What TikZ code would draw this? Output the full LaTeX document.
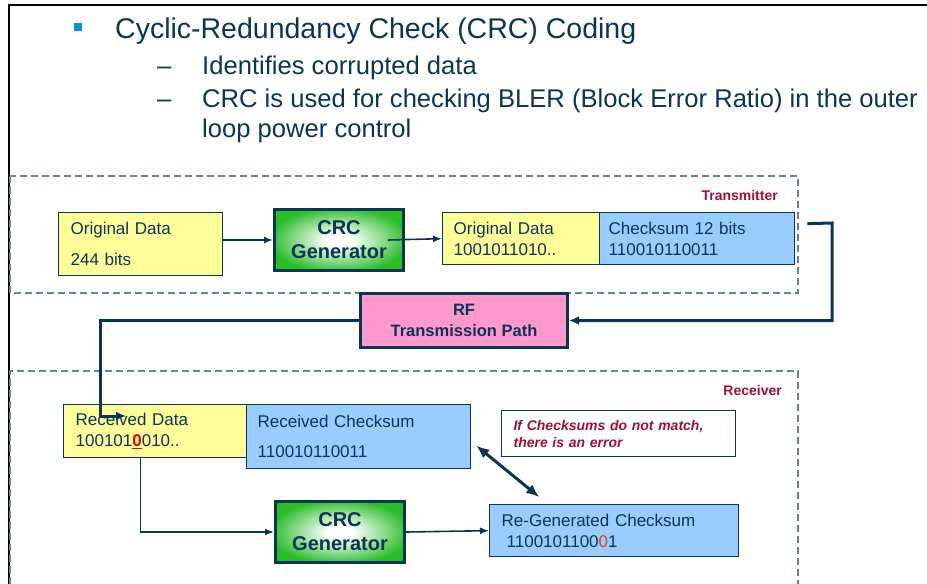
\documentclass[tikz,border=0pt]{standalone}
\usepackage{fontspec}
\setmainfont{Liberation Sans}
\usetikzlibrary{arrows.meta}

\definecolor{navy}{RGB}{12,52,86}
\definecolor{labelred}{RGB}{160,16,56}
\definecolor{datayellow}{RGB}{255,255,153}
\definecolor{sumblue}{RGB}{153,204,255}
\definecolor{rfpink}{RGB}{255,153,204}
\definecolor{crcgreen}{RGB}{40,190,40}
\definecolor{crcdark}{RGB}{30,160,30}
\definecolor{zonegray}{RGB}{100,130,155}
\definecolor{bulletblue}{RGB}{0,150,214}
\definecolor{bitred}{RGB}{230,0,0}
\definecolor{bitorange}{RGB}{230,60,20}

\pgfdeclareradialshading{crcglow}{\pgfpoint{0bp}{0bp}}{color(0bp)=(white); color(5bp)=(white); color(27bp)=(crcgreen); color(44bp)=(crcgreen); color(50bp)=(crcdark)}

\newcommand\crctitlefont{\fontsize{28.5pt}{33pt}\selectfont}
\newcommand\crcitemfont{\fontsize{25.6pt}{30pt}\selectfont}
\newcommand\crcboxfont{\fontsize{17pt}{21pt}\selectfont}
\newcommand\crcgenfont{\fontsize{20pt}{24pt}\selectfont\bfseries}
\newcommand\crcrffont{\fontsize{16.5pt}{21pt}\selectfont\bfseries}
\newcommand\crclabelfont{\fontsize{14pt}{16pt}\selectfont\bfseries}
\newcommand\crcnotefont{\fontsize{14pt}{17pt}\selectfont\bfseries\itshape}

\tikzset{
  databox/.style={draw=navy, line width=1.3pt, anchor=north west, inner xsep=#1, inner ysep=0pt, align=left, text=navy, font=\crcboxfont},
  genbox/.style={draw=navy, line width=3pt, anchor=north west, shading=crcglow, align=center, text=navy, font=\crcgenfont, inner sep=0pt},
  rfbox/.style={draw=navy, line width=3pt, anchor=north west, fill=rfpink, align=center, text=navy, font=\crcrffont, inner sep=0pt},
  notebox/.style={draw=navy, line width=1.2pt, anchor=north west, fill=white, inner xsep=12pt, inner ysep=0pt, align=left, text=labelred, font=\crcnotefont},
  zone/.style={draw=zonegray, line width=1.2pt, dash pattern=on 7pt off 4pt},
  link/.style={draw=navy, line width=1.6pt, -{Latex[length=9pt,width=7pt]}},
  bigflow/.style={draw=navy, line width=3pt, -{Latex[length=10pt,width=9pt]}},
  itemtext/.style={anchor=base west, text=navy, font=\crcitemfont, inner sep=0pt}
}

\begin{document}
\begin{tikzpicture}[x=1pt, y=-1pt]
\useasboundingbox (0,0) rectangle (927,584);

% frame
\draw[line width=2.2pt, black] (9,584) -- (9,5) -- (927,5);

% bullet text
\node[fill=bulletblue, minimum size=8pt, inner sep=0pt] (bullet) at (78,27) {};
\node[anchor=base west, text=navy, font=\crctitlefont, inner sep=0pt] (title) at (115,38) {Cyclic-Redundancy Check (CRC) Coding};
\node[itemtext] (dash1) at (157,74) {--};
\node[itemtext] (item1) at (202,74) {Identifies corrupted data};
\node[itemtext] (dash2) at (157,107) {--};
\node[itemtext] (item2) at (202,107) {CRC is used for checking BLER (Block Error Ratio) in the outer};
\node[itemtext] (item3) at (202,137) {loop power control};

% transmitter zone
\draw[zone] (10,176) rectangle (798,293);
\node[anchor=east, text=labelred, font=\crclabelfont, inner sep=0pt] (txlabel) at (778,195) {Transmitter};

\node[databox=12pt, fill=datayellow, minimum width=164pt, minimum height=63pt, text width=140pt] (orig) at (58,212) {Original Data\\[10pt]244 bits};
\node[genbox, minimum width=129pt, minimum height=61pt] (gen1) at (273,208) {CRC\\Generator};
\node[databox=11pt, fill=datayellow, minimum width=157pt, minimum height=52pt, text width=135pt] (data2) at (442,212) {Original Data\\1001011010..};
\node[databox=9pt, fill=sumblue, minimum width=195pt, minimum height=52pt, text width=177pt] (chk) at (599,212) {Checksum 12 bits\\110010110011};

% channel
\node[rfbox, minimum width=207pt, minimum height=54pt] (rf) at (359,292) {RF\\Transmission Path};

% receiver zone
\draw[zone] (10,584) -- (10,371) -- (798,371) -- (798,584);
\node[anchor=east, text=labelred, font=\crclabelfont, inner sep=0pt] (rxlabel) at (782,390) {Receiver};

\node[databox=12pt, fill=datayellow, minimum width=183pt, minimum height=53pt, text width=159pt] (rxdata) at (63,404) {Received Data\\100101{\color{bitred}\textbf{\underline{0}}}010..};
\node[databox=11pt, fill=sumblue, minimum width=224pt, minimum height=64pt, text width=202pt] (rxchk) at (246,404) {Received Checksum\\[9pt]110010110011};
\node[notebox, minimum width=234pt, minimum height=46pt, text width=210pt] (note) at (501,410) {If Checksums do not match,\\there is an error};
\node[genbox, minimum width=129pt, minimum height=61pt] (gen2) at (274,500) {CRC\\Generator};
\node[databox=12pt, fill=sumblue, minimum width=249pt, minimum height=52pt, text width=225pt] (regen) at (489,504) {Re-Generated Checksum\\\hspace*{5pt}1100101100{\color{bitorange}0}1};

% connectors
\draw[link] (gen1.west -| orig.east) -- (gen1.west);
\draw[link] ([xshift=-17pt]gen1.east) -- (data2.west);

\coordinate (turn) at (832,223);
\draw[bigflow] ([shift={(12pt,15pt)}]chk.east) -- (turn) |- (rf.east);

\coordinate (drop) at (100,416);
\coordinate (rxin) at (126,416);
\draw[bigflow] (rf.west) -| (drop) -- (rxin);

\draw[link] ([xshift=-14.5pt]rxdata.south) |- (gen2.west);
\draw[link] (gen2.east) -- (regen.west);

\draw[navy, line width=3pt, {Latex[length=13pt,width=11pt]}-{Latex[length=13pt,width=11pt]}] ([shift={(5pt,-9pt)}]rxchk.east) -- ([shift={(-75pt,7pt)}]regen.north);
\end{tikzpicture}
\end{document}
